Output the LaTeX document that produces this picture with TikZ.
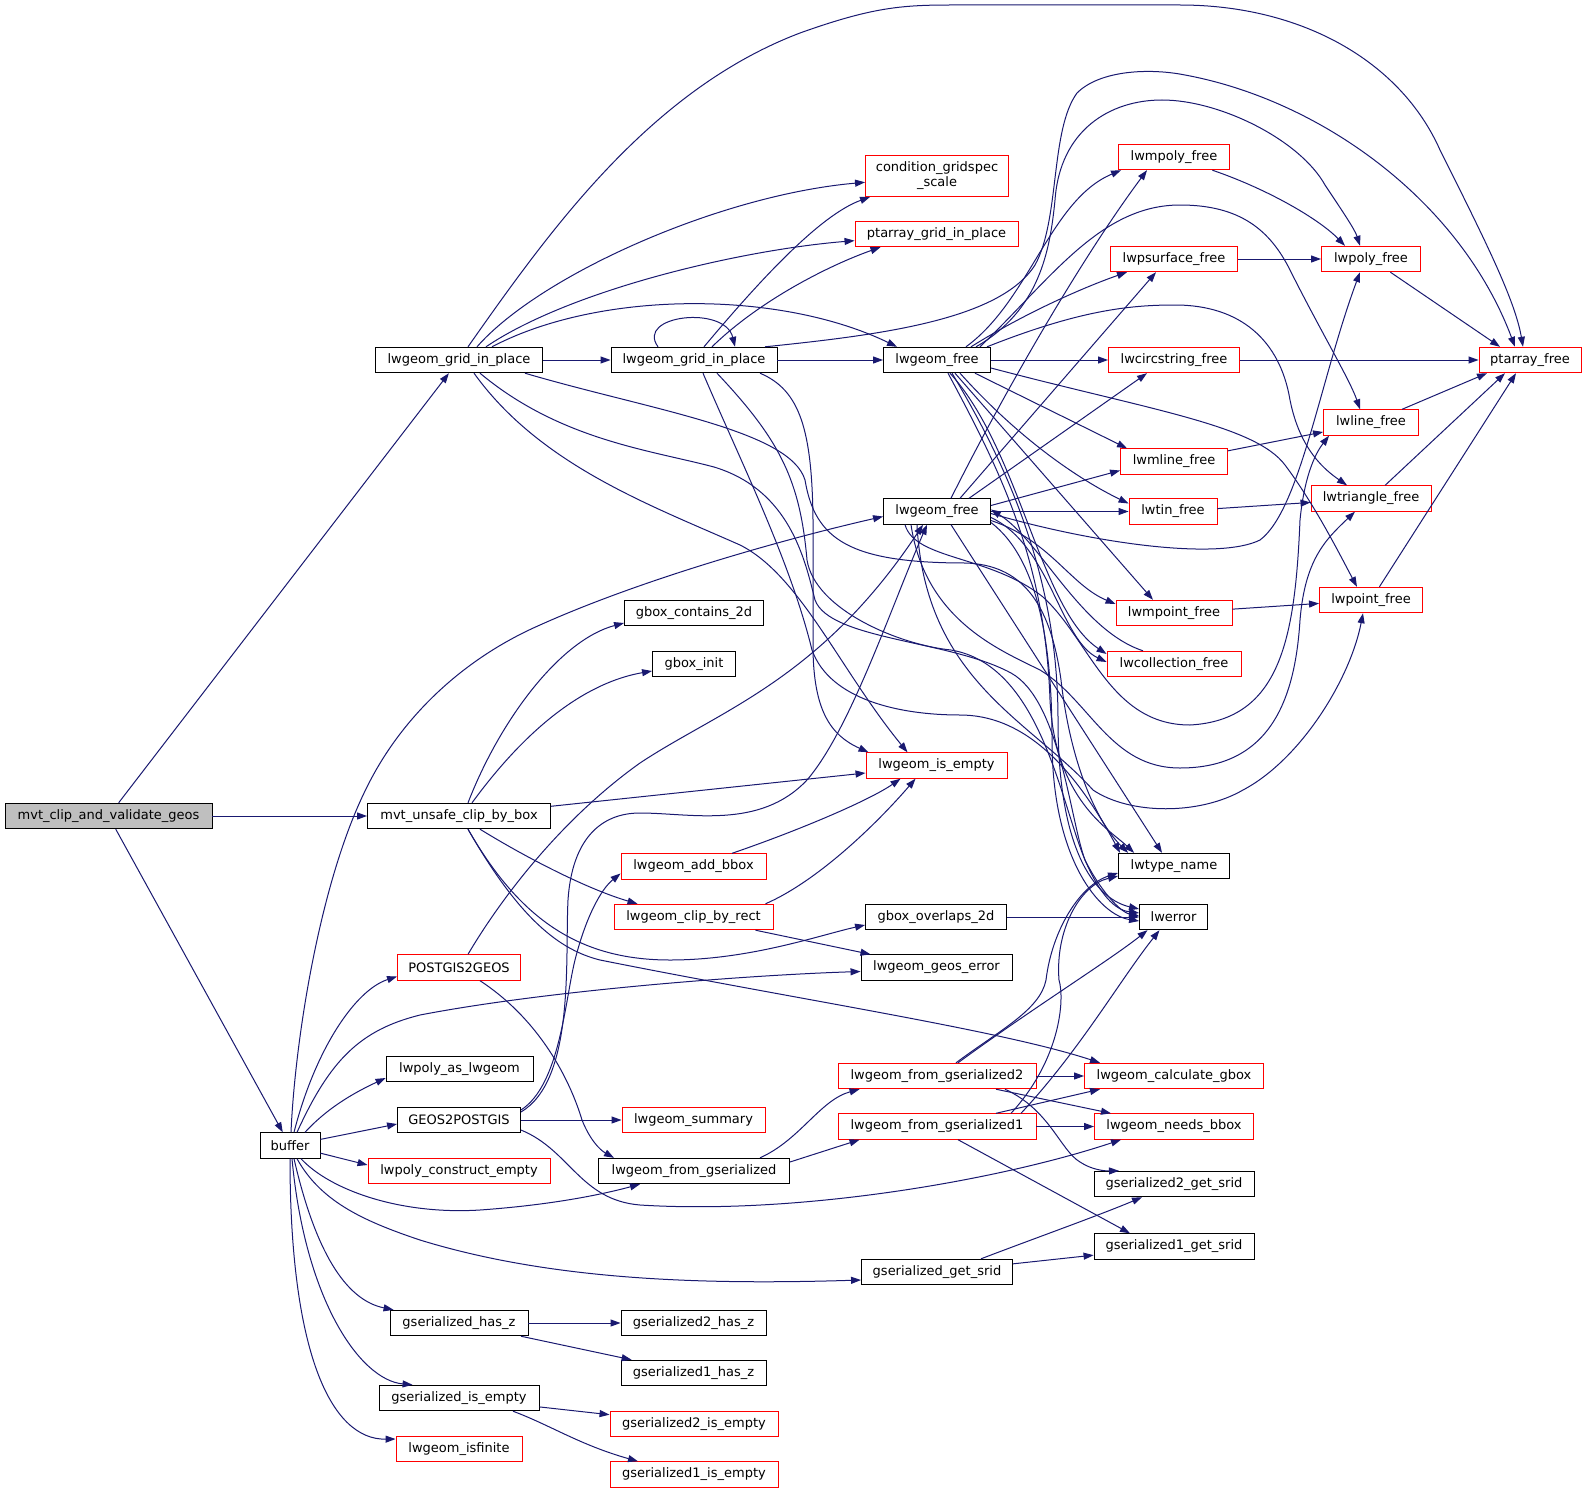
\documentclass[tikz,border=0pt]{standalone}
\usepackage{fontspec}
\setmainfont{DejaVu Sans}
\usetikzlibrary{arrows.meta}
\definecolor{ec}{HTML}{191970}
\definecolor{nred}{HTML}{FF0000}
\definecolor{ngray}{HTML}{BFBFBF}
\begin{document}
\begin{tikzpicture}[x=1pt,y=-1pt,
  nd/.style={draw=black, line width=0.9pt, rectangle, minimum height=25.5pt, inner sep=0pt, fill=white, font=\fontsize{13}{15}\selectfont},
  nr/.style={nd, draw=nred},
  e/.style={draw=ec, line width=1pt, -{Triangle[length=10pt,width=7pt]}}]
\useasboundingbox (0,0) rectangle (1587,1493);
\fill[white] (0,0) rectangle (1587,1493);

% nodes
\node[nd, minimum width=207pt, fill=ngray] (M) at (108.5,816) {mvt\_clip\_and\_validate\_geos};
\node[nd, minimum width=183pt] (U) at (459,816) {mvt\_unsafe\_clip\_by\_box};
\node[nd, minimum width=60pt] (B) at (290,1145.5) {buffer};
\node[nd, minimum width=167pt] (G1) at (459,360) {lwgeom\_grid\_in\_place};
\node[nd, minimum width=166pt] (G2) at (694,360) {lwgeom\_grid\_in\_place};
\node[nd, minimum width=107pt] (F1) at (937,360) {lwgeom\_free};
\node[nd, minimum width=107pt] (F2) at (937,511.5) {lwgeom\_free};
\node[nr, minimum width=143pt, minimum height=41pt, align=center] (cond) at (937,176) {condition\_gridspec\\\_scale};
\node[nr, minimum width=163pt] (ptgrid) at (936.5,234) {ptarray\_grid\_in\_place};
\node[nr, minimum width=111pt] (lwmpoly) at (1174,157) {lwmpoly\_free};
\node[nr, minimum width=127pt] (lwpsurf) at (1174,259) {lwpsurface\_free};
\node[nr, minimum width=99pt] (lwpoly) at (1371,259) {lwpoly\_free};
\node[nr, minimum width=131pt] (lwcirc) at (1174,360) {lwcircstring\_free};
\node[nr, minimum width=102pt] (ptfree) at (1530,360) {ptarray\_free};
\node[nr, minimum width=95pt] (lwline) at (1371,422.5) {lwline\_free};
\node[nr, minimum width=107pt] (lwmline) at (1174,461.5) {lwmline\_free};
\node[nr, minimum width=120pt] (lwtri) at (1371,498.5) {lwtriangle\_free};
\node[nr, minimum width=88pt] (lwtin) at (1173,511.5) {lwtin\_free};
\node[nr, minimum width=103pt] (lwpoint) at (1371,600) {lwpoint\_free};
\node[nr, minimum width=116pt] (lwmpoint) at (1174,613) {lwmpoint\_free};
\node[nr, minimum width=134pt] (lwcoll) at (1174,664) {lwcollection\_free};
\node[nr, minimum width=141pt] (isempty) at (936.5,765.5) {lwgeom\_is\_empty};
\node[nd, minimum width=111pt] (tname) at (1174,866) {lwtype\_name};
\node[nd, minimum width=68pt] (lwerror) at (1173.5,917) {lwerror};
\node[nd, minimum width=141pt] (gboxov) at (936,917) {gbox\_overlaps\_2d};
\node[nd, minimum width=151pt] (geoserr) at (936.5,967.5) {lwgeom\_geos\_error};
\node[nd, minimum width=139pt] (gboxc) at (694,613) {gbox\_contains\_2d};
\node[nd, minimum width=83pt] (gboxi) at (694,664) {gbox\_init};
\node[nr, minimum width=145pt] (addbbox) at (693.5,866.5) {lwgeom\_add\_bbox};
\node[nr, minimum width=159pt] (clip) at (693.5,917) {lwgeom\_clip\_by\_rect};
\node[nr, minimum width=123pt] (p2g) at (459,967.5) {POSTGIS2GEOS};
\node[nd, minimum width=147pt] (polyas) at (459.5,1069) {lwpoly\_as\_lwgeom};
\node[nd, minimum width=123pt] (g2p) at (459,1120) {GEOS2POSTGIS};
\node[nr, minimum width=143pt] (summary) at (693.5,1120) {lwgeom\_summary};
\node[nr, minimum width=182pt] (polyce) at (459,1171) {lwpoly\_construct\_empty};
\node[nd, minimum width=191pt] (fromgs) at (694,1171) {lwgeom\_from\_gserialized};
\node[nd, minimum width=138pt] (hasz) at (459,1323) {gserialized\_has\_z};
\node[nd, minimum width=145pt] (has2z) at (693.5,1323) {gserialized2\_has\_z};
\node[nd, minimum width=145pt] (has1z) at (693.5,1373) {gserialized1\_has\_z};
\node[nd, minimum width=160pt] (isemp) at (459,1398) {gserialized\_is\_empty};
\node[nr, minimum width=168pt] (is2e) at (694,1424) {gserialized2\_is\_empty};
\node[nr, minimum width=126pt] (isfin) at (459,1449) {lwgeom\_isfinite};
\node[nr, minimum width=168pt] (is1e) at (694,1474.5) {gserialized1\_is\_empty};
\node[nr, minimum width=198pt] (fg2) at (937,1076) {lwgeom\_from\_gserialized2};
\node[nr, minimum width=179pt] (calc) at (1174,1076) {lwgeom\_calculate\_gbox};
\node[nr, minimum width=198pt] (fg1) at (937,1126.5) {lwgeom\_from\_gserialized1};
\node[nr, minimum width=159pt] (needs) at (1174,1126.5) {lwgeom\_needs\_bbox};
\node[nd, minimum width=160pt] (s2) at (1174,1184) {gserialized2\_get\_srid};
\node[nd, minimum width=160pt] (s1) at (1174,1246.5) {gserialized1\_get\_srid};
\node[nd, minimum width=151pt] (gsrid) at (937,1272) {gserialized\_get\_srid};

% M
\draw[e] (M) -- (G1);
\draw[e] (M) -- (U);
\draw[e] (M) -- (B);

% G1
\draw[e] (G1) -- (G2);
\draw[e] ([xshift=9pt]G1.north) .. controls (550,230) and (650,90) .. (800,33) .. controls (870,8) and (900,5) .. (950,5) -- (1180,5) .. controls (1300,5) and (1400,60) .. (1440,150) .. controls (1485,240) and (1515,300) .. ([xshift=-7pt]ptfree.north);
\draw[e] ([xshift=18pt]G1.north) .. controls (540,275) and (720,195) .. (cond);
\draw[e] ([xshift=27pt]G1.north) .. controls (570,290) and (740,250) .. (ptgrid);
\draw[e] ([xshift=33pt]G1.north) .. controls (600,290) and (780,290) .. ([xshift=-40pt]F1.north);
\draw[e] ([xshift=15pt]G1.south) .. controls (540,465) and (650,505) .. (740,545) .. controls (800,575) and (840,670) .. ([xshift=-29pt]isempty.north);
\draw[e] ([xshift=21pt]G1.south) .. controls (560,440) and (650,450) .. (714,467) .. controls (790,490) and (805,560) .. (815,600) .. controls (830,640) and (950,640) .. (1011,673) .. controls (1060,700) and (1070,820) .. (1085,860) .. controls (1100,895) and (1115,910) .. ([yshift=4pt]lwerror.west);
\draw[e] ([xshift=66pt]G1.south) .. controls (650,410) and (790,430) .. (805,480) .. controls (815,540) and (850,563) .. (966,563) .. controls (1020,565) and (1050,600) .. (1061,680) .. controls (1070,760) and (1095,820) .. ([xshift=10pt]tname.north west);

% G2
\draw[e] ([xshift=-36pt]G2.north) .. controls (635,315) and (725,305) .. ([xshift=41pt]G2.north);
\draw[e] (G2) -- (F1);
\draw[e] ([xshift=10pt]G2.north) .. controls (760,280) and (820,215) .. ([xshift=5pt]cond.south west);
\draw[e] ([xshift=18pt]G2.north) .. controls (760,300) and (830,265) .. ([xshift=-56pt]ptgrid.south);
\draw[e] ([xshift=71pt]G2.north) .. controls (880,335) and (1000,320) .. (1035,265) .. controls (1060,220) and (1050,130) .. (1077,93) .. controls (1100,70) and (1150,68) .. (1185,75) .. controls (1320,100) and (1460,200) .. ([xshift=-15pt]ptfree.north);
\draw[e] ([xshift=66pt]G2.south) .. controls (800,390) and (812,430) .. (813,520) -- (813,650) .. controls (814,710) and (830,735) .. ([xshift=3pt]isempty.north west);
\draw[e] ([xshift=9pt]G2.south) .. controls (740,460) and (790,560) .. (812,650) .. controls (830,700) and (900,715) .. (960,715) .. controls (1020,715) and (1070,760) .. ([xshift=2pt]tname.north west);
\draw[e] ([xshift=23pt]G2.south) .. controls (780,440) and (800,480) .. (807,560) .. controls (815,610) and (900,645) .. (951,650) .. controls (1040,665) and (1060,800) .. (1085,860) .. controls (1100,890) and (1120,912) .. ([yshift=1pt]lwerror.west);

% F1
\draw[e] (F1) -- (lwcirc);
\draw[e] ([xshift=29pt]F1.north) .. controls (1030,300) and (1050,200) .. ([xshift=3pt]lwmpoly.south west);
\draw[e] ([xshift=34pt]F1.north) .. controls (1030,310) and (1090,285) .. ([xshift=-47pt]lwpsurf.south);
\draw[e] ([xshift=39pt]F1.north) .. controls (1040,310) and (1050,250) .. (1055,200) .. controls (1060,130) and (1110,100) .. (1162,100) .. controls (1220,100) and (1300,140) .. (1325,185) .. controls (1345,215) and (1355,230) .. ([xshift=-11pt]lwpoly.north);
\draw[e] ([xshift=43pt]F1.north) .. controls (1050,280) and (1100,205) .. (1180,205) .. controls (1240,205) and (1270,230) .. (1290,270) .. controls (1320,330) and (1350,380) .. ([xshift=-11pt]lwline.north);
\draw[e] ([xshift=50pt]F1.north) .. controls (1080,310) and (1130,305) .. (1175,305) .. controls (1240,305) and (1280,340) .. (1290,400) .. controls (1300,450) and (1325,470) .. ([xshift=-24pt]lwtri.north);
\draw[e] ([xshift=38pt]F1.south) -- ([xshift=-47pt]lwmline.north);
\draw[e] ([xshift=23pt]F1.south) .. controls (1020,440) and (1080,480) .. ([yshift=8pt]lwtin.west);
\draw[e] ([xshift=18pt]F1.south) -- ([xshift=-21pt]lwmpoint.north);
\draw[e] ([yshift=-8pt]F1.east) .. controls (1150,410) and (1255,425) .. (1285,465) .. controls (1315,505) and (1340,555) .. ([xshift=-14pt]lwpoint.north);
\draw[e] ([xshift=13pt]F1.south) .. controls (1020,450) and (1040,610) .. ([yshift=10pt]lwcoll.west);
\draw[e] ([xshift=11pt]F1.south) .. controls (1000,470) and (1045,560) .. (1050,700) .. controls (1055,800) and (1110,830) .. ([xshift=16pt]tname.north west);
\draw[e] ([xshift=15pt]F1.south) .. controls (1010,470) and (1058,580) .. (1058,720) .. controls (1058,860) and (1100,900) .. ([yshift=8pt]lwerror.west);

% F2
\draw[e] (F2) -- (lwtin);
\draw[e] ([xshift=14pt]F2.north) .. controls (1000,400) and (1080,260) .. ([xshift=-27pt]lwmpoly.south);
\draw[e] ([xshift=23pt]F2.north) -- ([xshift=-18pt]lwpsurf.south);
\draw[e] ([xshift=32pt]F2.north) -- ([xshift=-27pt]lwcirc.south);
\draw[e] ([yshift=-2pt]F2.east) .. controls (1100,545) and (1220,560) .. (1260,540) .. controls (1300,510) and (1320,380) .. ([xshift=-11pt]lwpoly.south);
\draw[e] ([yshift=6pt]F2.east) -- ([yshift=-9pt]lwmline.west);
\draw[e] ([yshift=-9pt]F2.east) .. controls (1050,540) and (1070,585) .. ([yshift=9pt]lwmpoint.west);
\draw[e] ([yshift=-6pt]F2.east) .. controls (1050,545) and (1060,640) .. ([yshift=2pt]lwcoll.west);
\draw[e] ([xshift=-32pt]F2.south) .. controls (915,560) and (990,555) .. (1043,597) .. controls (1090,640) and (1110,725) .. (1190,725) .. controls (1280,720) and (1295,640) .. (1300,520) .. controls (1305,470) and (1318,450) .. ([xshift=6pt]lwline.south west);
\draw[e] ([xshift=-26pt]F2.south) .. controls (925,620) and (1000,650) .. (1040,670) .. controls (1090,700) and (1110,768) .. (1180,768) .. controls (1270,768) and (1295,700) .. (1300,620) .. controls (1305,560) and (1325,540) .. ([xshift=-16pt]lwtri.south);
\draw[e] ([xshift=-20pt]F2.south) .. controls (925,680) and (1030,720) .. (1093,790) .. controls (1130,815) and (1200,815) .. (1243,790) .. controls (1300,760) and (1350,680) .. ([xshift=-8pt]lwpoint.south);
\draw[e] ([xshift=14pt]F2.south) -- ([xshift=-12pt]tname.north);
\draw[e] ([yshift=-11pt]F2.east) .. controls (1040,560) and (1052,650) .. (1052,740) .. controls (1052,860) and (1100,915) .. ([yshift=-4pt]lwerror.west);
\draw[e] ([xshift=-31pt]lwcoll.north) .. controls (1080,630) and (1040,540) .. ([yshift=2pt]F2.east);

% free family
\draw[e] (lwmpoly) .. controls (1270,190) and (1320,220) .. ([xshift=-26pt]lwpoly.north);
\draw[e] (lwpsurf) -- (lwpoly);
\draw[e] (lwpoly) -- ([xshift=-30pt]ptfree.north);
\draw[e] (lwcirc) -- (ptfree);
\draw[e] (lwline) -- ([xshift=-43pt]ptfree.south);
\draw[e] (lwtri) -- ([xshift=-25pt]ptfree.south);
\draw[e] (lwpoint) -- ([xshift=-14pt]ptfree.south);
\draw[e] (lwmline) -- (lwline);
\draw[e] (lwtin) -- (lwtri);
\draw[e] (lwmpoint) -- (lwpoint);

% U
\draw[e] ([xshift=9pt]U.north) .. controls (500,720) and (560,640) .. ([yshift=-10pt]gboxc.west);
\draw[e] ([xshift=13pt]U.north) .. controls (540,710) and (600,680) .. ([yshift=-7pt]gboxi.west);
\draw[e] (U) -- (isempty);
\draw[e] ([xshift=21pt]U.south) .. controls (530,860) and (590,890) .. ([xshift=-56pt]clip.north);
\draw[e] ([xshift=9pt]U.south) .. controls (520,920) and (580,960) .. (670,960) .. controls (750,960) and (820,935) .. ([yshift=-8pt]gboxov.west);
\draw[e] ([xshift=9pt]U.south) .. controls (520,920) and (560,950) .. (600,960) .. controls (800,1000) and (1000,1030) .. ([xshift=-74pt]calc.north);

\draw[e] (addbbox) .. controls (800,830) and (870,800) .. ([xshift=-36pt]isempty.south);
\draw[e] ([xshift=72pt]clip.north) .. controls (820,880) and (880,820) .. ([xshift=-21pt]isempty.south);
\draw[e] ([xshift=62pt]clip.south) -- ([xshift=-66pt]geoserr.north);
\draw[e] (gboxov) -- (lwerror);

% buffer
\draw[e] ([xshift=1pt]B.north) .. controls (295,1040) and (320,880) .. (367,787) .. controls (400,720) and (460,660) .. (540,625) .. controls (640,580) and (780,540) .. ([yshift=-5pt]F2.west);
\draw[e] ([xshift=4pt]B.north) .. controls (315,1050) and (355,990) .. ([yshift=-9pt]p2g.west);
\draw[e] ([xshift=7pt]B.north) .. controls (330,1060) and (360,1030) .. (420,1015) .. controls (550,990) and (750,975) .. ([yshift=-4pt]geoserr.west);
\draw[e] ([xshift=15pt]B.north) .. controls (330,1105) and (360,1090) .. ([yshift=-9pt]polyas.west);
\draw[e] (B) -- ([yshift=-4pt]g2p.west);
\draw[e] (B) -- ([yshift=6pt]polyce.west);
\draw[e] ([xshift=11pt]B.south) .. controls (330,1190) and (400,1215) .. (480,1210) .. controls (550,1205) and (600,1195) .. ([xshift=-54pt]fromgs.south);
\draw[e] ([xshift=7pt]B.south) .. controls (320,1200) and (360,1220) .. (420,1240) .. controls (550,1280) and (700,1285) .. ([yshift=-8pt]gsrid.west);
\draw[e] ([xshift=4pt]B.south) .. controls (315,1250) and (345,1300) .. ([xshift=4pt]hasz.north west);
\draw[e] ([xshift=2pt]B.south) .. controls (305,1300) and (360,1380) .. ([xshift=34pt]isemp.north west);
\draw[e] (B.south) .. controls (290,1350) and (330,1440) .. ([yshift=10pt]isfin.west);

% POSTGIS2GEOS / GEOS2POSTGIS
\draw[e] ([xshift=9pt]p2g.north) .. controls (500,900) and (560,820) .. (640,763) .. controls (720,710) and (820,680) .. ([xshift=-14pt]F2.south);
\draw[e] ([xshift=21pt]p2g.south) .. controls (540,1020) and (570,1080) .. (582,1120) .. controls (590,1140) and (600,1150) .. ([xshift=-80pt]fromgs.north);
\draw[e] (g2p) -- (summary);
\draw[e] ([yshift=10pt]g2p.east) .. controls (560,1085) and (565,1000) .. (575,960) .. controls (585,920) and (600,890) .. ([yshift=-7pt]addbbox.west);
\draw[e] ([yshift=8pt]g2p.east) .. controls (575,1080) and (565,960) .. (568,900) .. controls (572,840) and (600,813) .. (640,813) .. controls (690,813) and (760,830) .. (807,780) .. controls (850,730) and (890,610) .. ([xshift=-10pt]F2.south);
\draw[e] ([yshift=-10pt]g2p.east) .. controls (570,1150) and (580,1200) .. (640,1205) .. controls (800,1215) and (1000,1180) .. ([xshift=-53pt]needs.south);

% from gserialized
\draw[e] ([xshift=66pt]fromgs.north) .. controls (800,1140) and (820,1100) .. ([xshift=22pt]fg2.south west);
\draw[e] ([yshift=9pt]fromgs.east) -- ([xshift=22pt]fg1.south west);
\draw[e] (fg2) -- (calc);
\draw[e] ([xshift=59pt]fg2.south) -- ([xshift=-63pt]needs.north);
\draw[e] ([xshift=68pt]fg2.south) .. controls (1050,1110) and (1060,1150) .. (1080,1162) .. controls (1092,1170) and (1105,1171) .. ([xshift=-55pt]s2.north);
\draw[e] ([xshift=19pt]fg2.north) .. controls (1000,1030) and (1040,1010) .. (1046,980) .. controls (1052,930) and (1080,885) .. ([yshift=-7pt]tname.west);
\draw[e] ([xshift=21pt]fg2.north) .. controls (1030,1010) and (1110,960) .. ([xshift=-26pt]lwerror.south);
\draw[e] (fg1) -- (needs);
\draw[e] ([xshift=59pt]fg1.north) -- ([xshift=-74pt]calc.south);
\draw[e] ([xshift=21pt]fg1.south) -- ([xshift=-44pt]s1.north);
\draw[e] ([xshift=74pt]fg1.north) .. controls (1060,1060) and (1065,1000) .. (1059,980) .. controls (1055,930) and (1080,885) .. ([yshift=-10pt]tname.west);
\draw[e] ([xshift=84pt]fg1.north) .. controls (1080,1050) and (1120,980) .. ([xshift=-14pt]lwerror.south);

% srid, has_z, is_empty
\draw[e] ([xshift=44pt]gsrid.north) .. controls (1030,1240) and (1100,1215) .. ([xshift=-32pt]s2.south);
\draw[e] (gsrid) -- (s1);
\draw[e] (hasz) -- (has2z);
\draw[e] (hasz) -- (has1z);
\draw[e] (isemp) -- (is2e);
\draw[e] ([xshift=54pt]isemp.south) .. controls (550,1425) and (580,1445) .. ([xshift=-56pt]is1e.north);
\end{tikzpicture}
\end{document}
